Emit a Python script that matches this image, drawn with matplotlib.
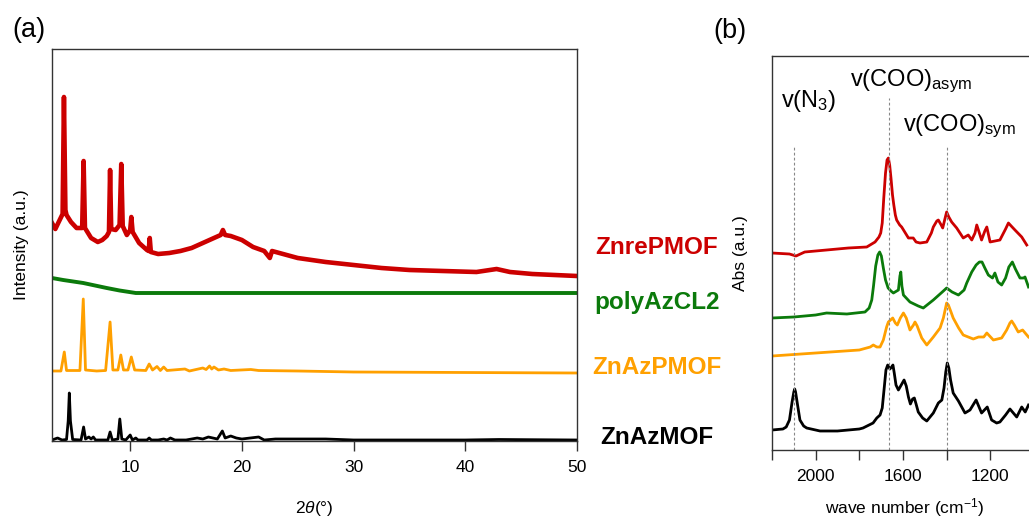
import matplotlib
matplotlib.use("Agg")
import matplotlib.pyplot as plt
from matplotlib.ticker import MultipleLocator, NullLocator, FixedLocator

plt.rcParams['font.family'] = ['Liberation Sans', 'DejaVu Sans']
plt.rcParams['mathtext.fontset'] = 'custom'
plt.rcParams['mathtext.rm'] = 'Liberation Sans'
plt.rcParams['mathtext.it'] = 'Liberation Sans:italic'
plt.rcParams['mathtext.bf'] = 'Liberation Sans:bold'

# ---------------- XRD patterns (2theta in degrees, intensity in a.u.) ----------------
zn_azmof_2t = [3.0, 3.5, 3.9, 4.3, 4.45, 4.55, 4.65, 4.85, 5.6, 5.83, 6.0, 6.3, 6.5, 6.7, 6.9,
               8.0, 8.2, 8.4, 8.9, 9.07, 9.25, 9.6, 10.0, 10.2, 10.5, 10.7, 11.5, 11.7, 11.9,
               12.5, 13.0, 13.3, 13.6, 14.0, 15.0, 16.0, 16.5, 17.0, 17.4, 17.8, 18.25, 18.5,
               19.0, 19.5, 20.0, 21.5, 22.0, 23.0, 25.0, 27.5, 30.0, 35.0, 40.0, 43.0, 50.0]
zn_azmof_i = [1, 3, 1, 1.5, 20, 48, 20, 1.5, 1, 14, 2, 4, 2, 4, 1,
              1, 9, 1, 2, 22, 2, 1, 6, 1, 3, 1, 1, 3, 1,
              1, 2, 1, 3, 1, 1, 3, 2, 4, 3, 2, 10, 3,
              5, 3, 2, 4, 1, 2, 2, 2, 1, 1, 1, 1.5, 1]

zn_azpmof_2t = [3.0, 3.8, 4.1, 4.3, 5.5, 5.8, 6.0, 7.0, 7.8, 8.2, 8.45, 8.9, 9.16, 9.4, 9.8,
                10.1, 10.4, 11.4, 11.7, 12.0, 12.4, 12.7, 13.0, 13.3, 14.9, 15.3, 16.5, 16.8,
                17.1, 17.3, 17.5, 17.9, 18.4, 19.0, 20.8, 21.5, 25.0, 30.0, 40.0, 50.0]
zn_azpmof_i = [0, 0, 19, 0.5, 0.5, 72, 1, 0, 0.5, 49, 1, 1, 16, 1, 1,
               14, 1, 0.5, 7, 1, 4.5, 0.5, 4, 0.5, 2, 0, 3, 1.5,
               5, 2, 4, 1, 2, 0.5, 1.5, 0.5, 0, -1, -1.5, -2]

poly_azcl2_2t = [3.0, 4.0, 5.8, 7.9, 9.05, 10.5, 20.0, 30.0, 40.0, 50.0]
poly_azcl2_i = [15, 13, 10, 5, 2.5, 0, 0, 0, 0, 0]

zn_repmof_2t = [3.0, 3.3, 3.6, 3.95, 4.07, 4.2, 4.3, 4.7, 5.2, 5.7, 5.83, 5.95, 6.5, 7.1, 7.5,
                7.9, 8.1, 8.2, 8.3, 8.7, 9.05, 9.2, 9.33, 9.7, 10.0, 10.1, 10.22, 10.8, 11.5,
                11.65, 11.75, 11.85, 12.5, 13.5, 14.5, 15.5, 16.5, 17.5, 18.1, 18.3, 18.5, 19.0,
                20.0, 21.0, 22.0, 22.5, 22.7, 25.0, 27.5, 30.0, 32.5, 35.0, 38.0, 41.0, 42.8,
                44.0, 46.0, 48.0, 50.0]
zn_repmof_i = [53, 47, 54, 62, 179, 66, 61, 54, 48, 48, 115, 48, 38, 34, 36,
               40, 44, 106, 47, 46, 51, 112, 50, 41, 46, 59, 44, 33, 26,
               25, 38, 24, 22, 23, 25, 28, 33, 38, 41, 46, 41, 40,
               36, 29, 25, 18, 25, 18, 14, 11, 8, 6, 5, 4, 7,
               4, 2, 1, 0]

# ---------------- FTIR spectra (wave number in cm-1, absorbance in a.u.) ----------------
ir_azmof_wn = [2200, 2150, 2135, 2120, 2108, 2100, 2096, 2092, 2085, 2072, 2055, 2041, 1980,
               1900, 1800, 1783, 1737, 1720, 1705, 1695, 1686, 1678, 1670, 1660, 1652, 1646,
               1640, 1632, 1621, 1608, 1595, 1585, 1575, 1566, 1556, 1548, 1540, 1530, 1510,
               1491, 1461, 1438, 1422, 1412, 1404, 1397, 1390, 1382, 1370, 1346, 1316, 1293,
               1265, 1240, 1214, 1194, 1171, 1156, 1130, 1110, 1079, 1056, 1040, 1025]
ir_azmof_a = [0, 1, 3, 10, 28, 38, 41, 38, 28, 10, 4, 2, -1,
              -1, 1, 2, 7, 12, 15, 22, 42, 60, 65, 61, 63, 65,
              57, 45, 40, 45, 50, 44, 33, 26, 31, 32, 26, 18, 12,
              9, 17, 27, 30, 42, 58, 67, 62, 50, 37, 29, 17, 20,
              30, 17, 23, 10, 7, 8, 15, 21, 13, 23, 18, 25]

ir_azpmof_wn = [2200, 2000, 1800, 1750, 1736, 1720, 1705, 1690, 1675, 1667, 1647, 1635, 1626,
                1612, 1598, 1585, 1568, 1552, 1545, 1535, 1514, 1491, 1461, 1430, 1415, 1405,
                1400, 1392, 1380, 1370, 1345, 1324, 1278, 1254, 1230, 1216, 1186, 1148, 1125,
                1110, 1102, 1090, 1072, 1052, 1025]
ir_azpmof_a = [0, 3, 6, 9, 11, 9, 9, 16, 29, 34, 38, 33, 31,
               38, 43, 38, 26, 31, 34, 30, 18, 11, 19, 28, 38, 48,
               53, 51, 44, 38, 28, 21, 17, 19, 19, 23, 16, 18, 26,
               33, 35, 31, 24, 26, 19]

ir_polyaz_wn = [2200, 2100, 2000, 1950, 1857, 1774, 1755, 1743, 1735, 1725, 1715, 1707, 1699,
                1690, 1680, 1668, 1655, 1644, 1621, 1614, 1610, 1605, 1598, 1568, 1530, 1507,
                1461, 1420, 1400, 1375, 1346, 1320, 1308, 1285, 1265, 1250, 1238, 1225, 1209,
                1190, 1179, 1165, 1148, 1130, 1115, 1099, 1085, 1064, 1048, 1041, 1025]
ir_polyaz_a = [0, 1, 3, 5, 4, 6, 10, 18, 32, 52, 63, 66, 62,
               50, 38, 30, 27, 25, 28, 42, 46, 32, 23, 16, 12, 10,
               18, 26, 30, 26, 23, 28, 35, 46, 53, 56, 56, 50, 43,
               40, 45, 36, 33, 40, 51, 56, 49, 40, 40, 41, 31]

ir_repmof_wn = [2200, 2120, 2090, 2050, 1950, 1850, 1766, 1728, 1710, 1702, 1695, 1688, 1680,
                1673, 1667, 1661, 1655, 1648, 1642, 1635, 1629, 1615, 1606, 1575, 1553, 1540,
                1522, 1491, 1470, 1461, 1445, 1438, 1425, 1418, 1408, 1400, 1390, 1377, 1354,
                1324, 1301, 1285, 1270, 1262, 1250, 1240, 1225, 1216, 1201, 1156, 1130, 1117,
                1100, 1087, 1056, 1033]
ir_repmof_a = [0, -1, -3, 1, 3, 5, 6, 11, 16, 20, 30, 55, 80,
               93, 95, 88, 75, 58, 48, 38, 33, 28, 26, 15, 15, 11,
               10, 11, 20, 26, 32, 33, 28, 25, 34, 41, 36, 31, 25,
               15, 18, 13, 20, 28, 20, 13, 22, 26, 11, 13, 24, 30,
               26, 23, 16, 8]

sample_names = ["ZnrePMOF", "polyAzCL2", "ZnAzPMOF", "ZnAzMOF"]
sample_colors = ["#CC0000", "#0B7A0B", "#FFA000", "#000000"]

band_positions = [2100, 1665, 1398]
band_labels = [r"v(N$_3$)", r"v(COO)$_{\mathrm{asym}}$", r"v(COO)$_{\mathrm{sym}}$"]

# ---------------- figure ----------------
W, H = 1029, 519
fig = plt.figure(figsize=(W / 100, H / 100), dpi=100)

def frame(l, t, r, b):
    return [l / W, (H - b) / H, (r - l) / W, (b - t) / H]

spine_color = "#333333"
tick_fs = 12.5

# Panel (a): XRD
ax_a = fig.add_axes(frame(52, 49, 577, 441))
xrd_offsets = [165, 148, 70, 0]
xrd_series = [(zn_repmof_2t, zn_repmof_i), (poly_azcl2_2t, poly_azcl2_i),
              (zn_azpmof_2t, zn_azpmof_i), (zn_azmof_2t, zn_azmof_i)]
xrd_widths = [3.3, 2.8, 2.0, 2.0]
for (tt, ii), off, col, lw in zip(xrd_series, xrd_offsets, sample_colors, xrd_widths):
    ax_a.plot(tt, [v + off for v in ii], color=col, lw=lw, solid_joinstyle="round")
ax_a.set_xlim(3, 50)
ax_a.set_ylim(0, 392)
ax_a.xaxis.set_major_locator(MultipleLocator(10))
ax_a.yaxis.set_major_locator(NullLocator())
ax_a.set_xlabel(r"2$\mathit{\theta}$(°)", fontsize=tick_fs)
ax_a.xaxis.set_label_coords(0.5, -0.148)
ax_a.set_ylabel("Intensity (a.u.)", fontsize=tick_fs)
ax_a.yaxis.set_label_coords(-0.043, 0.5)

# Panel (b): FTIR
ax_b = fig.add_axes(frame(772, 56, 772 + 1400 * 0.2183, 450))
ir_offsets = [197, 132, 94, 20]
ir_series = [(ir_repmof_wn, ir_repmof_a), (ir_polyaz_wn, ir_polyaz_a),
             (ir_azpmof_wn, ir_azpmof_a), (ir_azmof_wn, ir_azmof_a)]
for (ww, aa), off, col in zip(ir_series, ir_offsets, sample_colors):
    ax_b.plot(ww, [v + off for v in aa], color=col, lw=2.0, solid_joinstyle="round")
ax_b.set_xlim(2200, 800)
ax_b.set_ylim(0, 394)
ax_b.xaxis.set_major_locator(FixedLocator([2000, 1600, 1200]))
ax_b.xaxis.set_minor_locator(FixedLocator([2200, 1800, 1400]))
ax_b.yaxis.set_major_locator(NullLocator())
ax_b.set_xlabel(r"wave number (cm$^{\mathrm{-1}}$)", fontsize=tick_fs)
ax_b.xaxis.set_label_coords((905 - 772) / (1400 * 0.2183), -0.118)
ax_b.set_ylabel("Abs (a.u.)", fontsize=tick_fs)
ax_b.yaxis.set_label_coords(-0.078, 0.5)

# band markers
band_tops = [305, 352, 305]
for x, top in zip(band_positions, band_tops):
    ax_b.plot([x, x], [0, top], color="#888888", lw=0.8, ls=(0, (2.5, 2)))
ax_b.text(2160, 343, band_labels[0], fontsize=17, va="baseline", ha="left")
ax_b.text(1843, 364, band_labels[1], fontsize=17, va="baseline", ha="left")
ax_b.text(1600, 319, band_labels[2], fontsize=17, va="baseline", ha="left")

for ax in (ax_a, ax_b):
    for s in ax.spines.values():
        s.set_color(spine_color)
        s.set_linewidth(1.0)
    ax.tick_params(axis="x", which="both", direction="out", length=7, width=1.0,
                   color=spine_color, labelsize=tick_fs, pad=7, top=False)

# sample names between the panels
label_y = [247, 302, 367, 437]
for name, col, y in zip(sample_names, sample_colors, label_y):
    fig.text(657 / W, 1 - y / H, name, color=col, fontsize=17.5, fontweight="bold",
             ha="center", va="center")

fig.text(29 / W, 1 - 30 / H, "(a)", fontsize=19.5, ha="center", va="center")
fig.text(730 / W, 1 - 31 / H, "(b)", fontsize=19.5, ha="center", va="center")

fig.savefig("out.png", dpi=100)
